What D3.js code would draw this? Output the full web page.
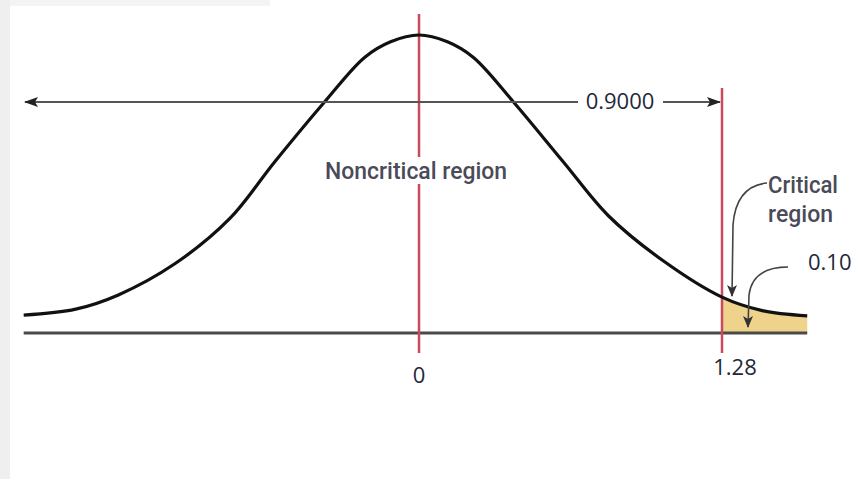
<!DOCTYPE html>
<html>
<head>
<meta charset="utf-8">
<script src="https://cdn.jsdelivr.net/npm/d3@7"></script>
<style>
  body { margin: 0; background: #fff; }
  svg { display: block; }
</style>
</head>
<body>
<div class="chart"></div>
<script>
// curve: z position and height of the density
const curveZ = [-1.67, -1.45, -1.27, -1.03, -0.8, -0.61, -0.4, -0.23, -0.12, 0, 0.12, 0.23, 0.4, 0.61, 0.8, 1.03, 1.28, 1.45, 1.64]
const curveDensity = [0.024, 0.032, 0.051, 0.093, 0.153, 0.229, 0.309, 0.369, 0.39, 0.399, 0.39, 0.369, 0.309, 0.229, 0.157, 0.097, 0.048, 0.03, 0.023]
const tickValues = [0, 1.28]
const tickLabels = ['0', '1.28']
const criticalValue = 1.28
const confidenceLabel = '0.9000'
const alphaLabel = '0.10'

const width = 852
const height = 479

const xScale = d3.scaleLinear()
  .domain([0, 1.28])
  .range([419, 722])
const yScale = d3.scaleLinear()
  .domain([0, 0.399])
  .range([333, 35])

const points = curveZ.map((z, i) => ({ z, d: curveDensity[i] }))
const tail = points.filter(p => p.z >= criticalValue)

const svg = d3.select('.chart')
  .append('svg')
  .attr('width', width)
  .attr('height', height)

// page frame
svg.append('rect').attr('x', 0).attr('y', 0).attr('width', 10).attr('height', height).attr('fill', '#efefef')
svg.append('rect').attr('x', 10).attr('y', 0).attr('width', 260).attr('height', 6).attr('fill', '#f4f4f4')

const defs = svg.append('defs')
defs.append('marker')
  .attr('id', 'head')
  .attr('viewBox', '0 0 14 10')
  .attr('refX', 13)
  .attr('refY', 5)
  .attr('markerWidth', 14)
  .attr('markerHeight', 10)
  .attr('markerUnits', 'userSpaceOnUse')
  .attr('orient', 'auto-start-reverse')
  .append('path')
  .attr('d', 'M0,0 L14,5 L0,10 L3,5 Z')
  .attr('fill', '#222')
defs.append('marker')
  .attr('id', 'small')
  .attr('viewBox', '0 0 10 12')
  .attr('refX', 5)
  .attr('refY', 11)
  .attr('markerWidth', 10)
  .attr('markerHeight', 12)
  .attr('markerUnits', 'userSpaceOnUse')
  .attr('orient', '0')
  .append('path')
  .attr('d', 'M0,0 L5,3 L10,0 L5,12 Z')
  .attr('fill', '#333')

// shaded tail
const area = d3.area()
  .x(p => xScale(p.z))
  .y0(yScale(0))
  .y1(p => yScale(p.d))
  .curve(d3.curveCatmullRom.alpha(0.5))
svg.append('path')
  .datum(tail)
  .attr('d', area)
  .attr('fill', '#efd38c')

// base line
svg.append('line')
  .attr('x1', xScale(curveZ[0]))
  .attr('x2', xScale(curveZ[curveZ.length - 1]))
  .attr('y1', yScale(0))
  .attr('y2', yScale(0))
  .attr('stroke', '#4a4a4a')
  .attr('stroke-width', 3)

// red markers
const red = '#c84a5c'
svg.append('line')
  .attr('x1', xScale(0)).attr('x2', xScale(0))
  .attr('y1', 14).attr('y2', 353)
  .attr('stroke', red).attr('stroke-width', 2.5)
svg.append('line')
  .attr('x1', xScale(criticalValue)).attr('x2', xScale(criticalValue))
  .attr('y1', 88).attr('y2', 353)
  .attr('stroke', red).attr('stroke-width', 2.5)

// density curve
const line = d3.line()
  .x(p => xScale(p.z))
  .y(p => yScale(p.d))
  .curve(d3.curveCatmullRom.alpha(0.5))
svg.append('path')
  .datum(points)
  .attr('d', line)
  .attr('fill', 'none')
  .attr('stroke', '#111')
  .attr('stroke-width', 3.2)

// 0.9000 arrow
const arrowY = 102
svg.append('line')
  .attr('x1', 25).attr('x2', 578)
  .attr('y1', arrowY).attr('y2', arrowY)
  .attr('stroke', '#555').attr('stroke-width', 2)
  .attr('marker-start', 'url(#head)')
svg.append('line')
  .attr('x1', 663).attr('x2', xScale(criticalValue) - 2)
  .attr('y1', arrowY).attr('y2', arrowY)
  .attr('stroke', '#555').attr('stroke-width', 2)
  .attr('marker-end', 'url(#head)')
svg.append('text')
  .attr('x', 620).attr('y', 109)
  .attr('text-anchor', 'middle')
  .attr('font-family', 'Open Sans, sans-serif')
  .attr('font-size', 22)
  .attr('fill', '#1f2838')
  .text(confidenceLabel)

// region labels
const labelFont = 'Roboto, sans-serif'
svg.append('rect')
  .attr('x', 322).attr('y', 157).attr('width', 190).attr('height', 27)
  .attr('fill', '#fff')
svg.append('text')
  .attr('x', 325).attr('y', 179)
  .attr('font-family', labelFont)
  .attr('font-size', 23)
  .attr('font-weight', 500)
  .attr('textLength', 182)
  .attr('lengthAdjust', 'spacingAndGlyphs')
  .attr('fill', '#4a4a58')
  .text('Noncritical region')

svg.append('text')
  .attr('x', 768).attr('y', 193)
  .attr('font-family', labelFont)
  .attr('font-size', 23)
  .attr('font-weight', 500)
  .attr('textLength', 70)
  .attr('lengthAdjust', 'spacingAndGlyphs')
  .attr('fill', '#4a4a58')
  .text('Critical')
svg.append('text')
  .attr('x', 768).attr('y', 222)
  .attr('font-family', labelFont)
  .attr('font-size', 23)
  .attr('font-weight', 500)
  .attr('textLength', 65)
  .attr('lengthAdjust', 'spacingAndGlyphs')
  .attr('fill', '#4a4a58')
  .text('region')

// leaders
svg.append('path')
  .attr('d', 'M767,183 C748,185 735,198 733,225 L732,296')
  .attr('fill', 'none')
  .attr('stroke', '#444').attr('stroke-width', 1.6)
  .attr('marker-end', 'url(#small)')
svg.append('path')
  .attr('d', 'M788,267 C770,267 752,272 749,295 L748,327')
  .attr('fill', 'none')
  .attr('stroke', '#444').attr('stroke-width', 1.6)
  .attr('marker-end', 'url(#small)')
svg.append('text')
  .attr('x', 808).attr('y', 270)
  .attr('font-family', 'Open Sans, sans-serif')
  .attr('font-size', 22)
  .attr('fill', '#1f2838')
  .text(alphaLabel)

// tick labels
const tickY = [383, 375]
svg.selectAll('.tick-label')
  .data(tickValues)
  .enter()
  .append('text')
  .attr('class', 'tick-label')
  .attr('x', (d, i) => xScale(d) + (i === 1 ? 13 : 0))
  .attr('y', (d, i) => tickY[i])
  .attr('text-anchor', 'middle')
  .attr('font-family', 'Open Sans, sans-serif')
  .attr('font-size', 22)
  .attr('fill', '#1f2838')
  .text((d, i) => tickLabels[i])
</script>
</body>
</html>
